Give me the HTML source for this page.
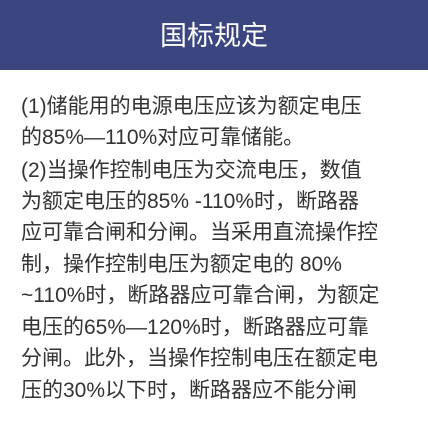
<!DOCTYPE html>
<html><head><meta charset="utf-8"><style>
body{margin:0;width:428px;height:431px;background:#fff;overflow:hidden;position:relative;font-family:"Liberation Sans","Noto Sans CJK SC",sans-serif}
.hdr{position:absolute;left:0;top:0;width:428px;height:70px;background:#3b4680}
.ttl{position:absolute;left:0;width:428px;top:17px;text-align:center;color:#fff;font-size:27px;line-height:38px}
.l{position:absolute;left:21px;font-size:21px;color:#333;white-space:nowrap;line-height:30px}
</style></head><body>
<div class="hdr"><div class="ttl">国标规定</div></div>
<div>
<div class="l" style="top:92px">(1)储能用的电源电压应该为额定电压</div>
<div class="l" style="top:123px">的85%—110%对应可靠储能。</div>
<div class="l" style="top:156px">(2)当操作控制电压为交流电压，数值</div>
<div class="l" style="top:187px">为额定电压的85% -110%时，断路器</div>
<div class="l" style="top:218px">应可靠合闸和分闸。当采用直流操作控</div>
<div class="l" style="top:250px">制，操作控制电压为额定电的 80%</div>
<div class="l" style="top:281px">~110%时，断路器应可靠合闸，为额定</div>
<div class="l" style="top:313px">电压的65%—120%时，断路器应可靠</div>
<div class="l" style="top:344px">分闸。此外，当操作控制电压在额定电</div>
<div class="l" style="top:376px">压的30%以下时，断路器应不能分闸</div>
</div>
</body></html>
